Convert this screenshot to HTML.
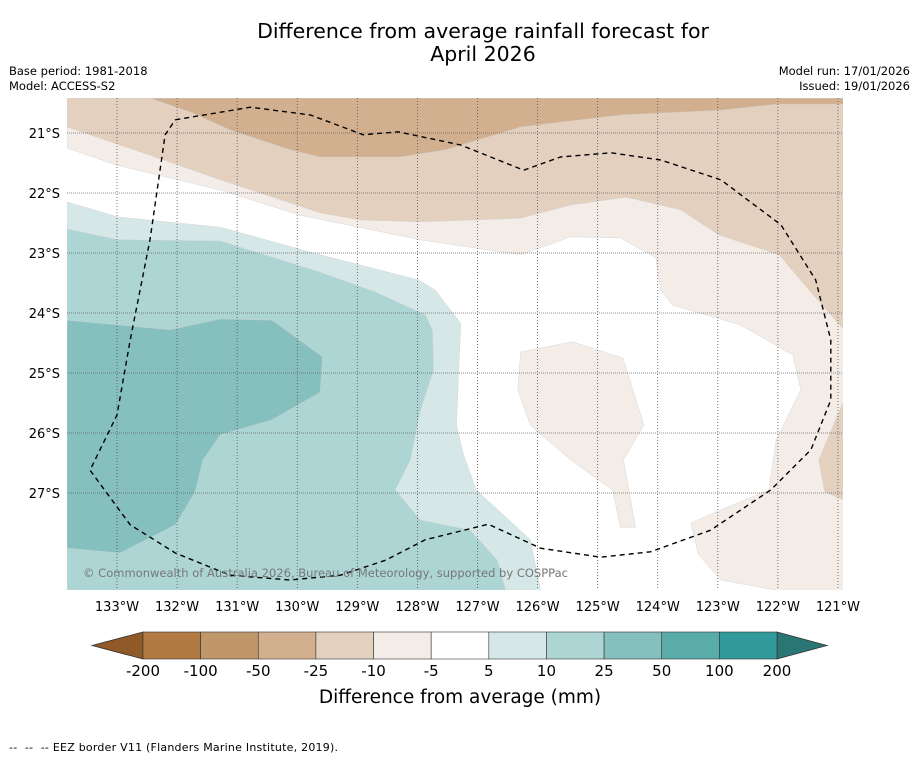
<!DOCTYPE html>
<html><head><meta charset="utf-8"><style>
body{margin:0;background:#fff;font-family:"DejaVu Sans","Liberation Sans",sans-serif;}
svg text{font-family:"DejaVu Sans","Liberation Sans",sans-serif;}
</style></head><body>
<svg id="chart" width="919" height="758" viewBox="0 0 919 758" xmlns="http://www.w3.org/2000/svg">
<rect width="919" height="758" fill="#fff"/>
<text x="483" y="38" font-size="20.5" text-anchor="middle">Difference from average rainfall forecast for</text>
<text x="483" y="61" font-size="20.5" text-anchor="middle">April 2026</text>
<text x="9" y="75" font-size="11.5">Base period: 1981-2018</text>
<text x="9" y="90" font-size="11.5">Model: ACCESS-S2</text>
<text x="910" y="75" font-size="11.5" text-anchor="end">Model run: 17/01/2026</text>
<text x="910" y="90" font-size="11.5" text-anchor="end">Issued: 19/01/2026</text>
<defs><clipPath id="plotclip"><rect x="67" y="98" width="776" height="492"/></clipPath></defs>
<g id="map" clip-path="url(#plotclip)"></g>
<g id="grid"></g>
<g id="eez" clip-path="url(#plotclip)"></g>
<g id="axes"></g>
<text x="83" y="577" font-size="11.5" fill="#777" textLength="485">© Commonwealth of Australia 2026, Bureau of Meteorology, supported by COSPPac</text>
<g id="colorbar"></g>
<text x="460" y="703" font-size="18.5" text-anchor="middle">Difference from average (mm)</text>
<text x="9" y="751" font-size="11" textLength="329" xml:space="preserve">--  --  -- EEZ border V11 (Flanders Marine Institute, 2019).</text>
</svg>
<script>
const lonTicks=[-133,-132,-131,-130,-129,-128,-127,-126,-125,-124,-123,-122,-121];
const latTicks=[-21,-22,-23,-24,-25,-26,-27];
const cbLevels=[-200,-100,-50,-25,-10,-5,5,10,25,50,100,200];
const cbColors=["#b07a42","#c0966b","#d2b08f","#e3d0bf","#f4ece7","#ffffff","#d5e8e7","#acd5d4","#85bfbe","#5aacab","#32999a"];
const cbUnder="#8f5a28", cbOver="#2a7675";
const polyLight=[[-133.83,-20.42],[-120.9,-20.42],[-120.9,-28.62],[-122.03,-28.62],[-122.95,-28.45],[-123.32,-28.03],[-123.45,-27.5],[-122.95,-27.28],[-122.15,-26.95],[-122.03,-26.12],[-121.62,-25.28],[-121.75,-24.7],[-122.62,-24.2],[-123.75,-23.87],[-123.95,-23.62],[-124.03,-23.08],[-124.62,-22.75],[-125.45,-22.73],[-126.28,-23.03],[-127.95,-22.78],[-129.95,-22.37],[-131.28,-21.95],[-133.03,-21.53],[-133.83,-21.25]];
const polyLightPatch=[[-126.28,-24.65],[-125.42,-24.48],[-124.58,-24.75],[-124.23,-25.87],[-124.57,-26.45],[-124.37,-27.57],[-124.62,-27.57],[-124.75,-26.95],[-125.45,-26.45],[-126.12,-25.87],[-126.33,-25.28]];
const polyTan=[[-133.83,-20.42],[-120.9,-20.42],[-120.9,-24.28],[-121.48,-23.62],[-121.98,-23.03],[-122.98,-22.7],[-123.62,-22.28],[-124.53,-22.07],[-125.45,-22.2],[-126.28,-22.42],[-127.95,-22.48],[-128.95,-22.45],[-129.62,-22.33],[-131.28,-21.78],[-132.45,-21.37],[-133.83,-20.9]];
const polyTanPatch=[[-120.9,-25.45],[-121.32,-26.45],[-121.22,-26.98],[-120.9,-27.12]];
const polyDarkTan=[[-132.45,-20.42],[-120.9,-20.42],[-120.9,-20.52],[-122.03,-20.52],[-122.95,-20.62],[-124.62,-20.7],[-126.28,-20.9],[-127.53,-21.28],[-128.28,-21.4],[-129.62,-21.4],[-130.12,-21.28],[-131.12,-20.95],[-131.78,-20.65]];
const polyTeal1=[[-133.83,-22.15],[-132.98,-22.4],[-131.28,-22.57],[-129.62,-23.03],[-127.98,-23.45],[-127.7,-23.62],[-127.28,-24.17],[-127.35,-25.87],[-127.23,-26.37],[-127.02,-26.95],[-126.12,-27.78],[-125.95,-28.62],[-133.83,-28.62]];
const polyTeal2=[[-133.83,-22.6],[-132.98,-22.78],[-131.28,-22.8],[-129.62,-23.32],[-128.7,-23.65],[-127.87,-24.03],[-127.75,-24.28],[-127.73,-24.95],[-127.95,-25.62],[-128.12,-26.45],[-128.37,-26.95],[-127.95,-27.45],[-127.12,-27.62],[-126.67,-28.12],[-126.53,-28.62],[-133.83,-28.62]];
const polyTeal3=[[-133.83,-24.12],[-132.12,-24.28],[-131.28,-24.1],[-130.42,-24.12],[-129.58,-24.73],[-129.62,-25.32],[-130.42,-25.78],[-131.28,-26.03],[-131.57,-26.45],[-131.7,-26.98],[-132.03,-27.53],[-132.95,-28],[-133.83,-27.92]];
const eezLine=[[-132.03,-20.78],[-130.78,-20.57],[-129.78,-20.7],[-128.9,-21.03],[-128.32,-20.98],[-127.28,-21.2],[-126.23,-21.62],[-125.62,-21.4],[-124.78,-21.33],[-123.95,-21.45],[-122.95,-21.78],[-121.95,-22.53],[-121.37,-23.45],[-121.12,-24.45],[-121.12,-25.45],[-121.45,-26.28],[-122.12,-26.95],[-123.12,-27.62],[-124.12,-27.98],[-124.95,-28.07],[-125.95,-27.92],[-126.82,-27.52],[-127.87,-27.78],[-128.53,-28.12],[-129.28,-28.37],[-130.12,-28.45],[-131.12,-28.37],[-132.03,-28],[-132.78,-27.53],[-133.45,-26.62],[-133,-25.7],[-132.78,-24.45],[-132.45,-22.78],[-132.2,-21.03],[-132.03,-20.78]];

const NS="http://www.w3.org/2000/svg";
function xS(lon){return 117+(lon+133)*60.08;}
function yS(lat){return 133+(-21-lat)*60;}
function mk(tag,attrs,parent){const e=document.createElementNS(NS,tag);for(const k in attrs)e.setAttribute(k,attrs[k]);parent.appendChild(e);return e;}
function pts(arr){return arr.map(p=>xS(p[0]).toFixed(1)+","+yS(p[1]).toFixed(1)).join(" ");}
const map=document.getElementById("map");
const layers=[[polyLight,"#f4ece7","contour-minus10-minus5"],[polyLightPatch,"#f4ece7","contour-patch-minus10-minus5"],[polyTan,"#e3d0bf","contour-minus25-minus10"],[polyTanPatch,"#e3d0bf","contour-patch-minus25-minus10"],[polyDarkTan,"#d2b08f","contour-minus50-minus25"],[polyTeal1,"#d5e8e7","contour-5-10"],[polyTeal2,"#acd5d4","contour-10-25"],[polyTeal3,"#85bfbe","contour-25-50"]];
layers.forEach(l=>{
  const e=mk("polygon",{points:pts(l[0]),fill:l[1],stroke:"#cfcfcf","stroke-width":"0.4"},map);
  
  
});
const grid=document.getElementById("grid");
lonTicks.forEach(v=>{
  const e=mk("line",{x1:xS(v),x2:xS(v),y1:98,y2:590,stroke:"#555","stroke-width":"0.8","stroke-dasharray":"1,2"},grid);
  
  
});
latTicks.forEach(v=>{
  const e=mk("line",{x1:67,x2:843,y1:yS(v),y2:yS(v),stroke:"#666","stroke-width":"0.7","stroke-dasharray":"1,1"},grid);
  
  
});
const eez=document.getElementById("eez");
const ep=mk("polyline",{points:pts(eezLine),fill:"none",stroke:"#000","stroke-width":"1.4","stroke-dasharray":"5,4","stroke-linejoin":"round"},eez);


const axes=document.getElementById("axes");
lonTicks.forEach(v=>{
  const t=mk("text",{x:xS(v),y:611,"font-size":"13","text-anchor":"middle"},axes);
  t.textContent=Math.abs(v)+"°W";
  
  
});
latTicks.forEach(v=>{
  const t=mk("text",{x:60,y:yS(v)+5,"font-size":"13","text-anchor":"end"},axes);
  t.textContent=Math.abs(v)+"°S";
  
  
});
const cb=document.getElementById("colorbar");
const cbX0=143,cbX1=777,cbY0=632,cbY1=659;
const segW=(cbX1-cbX0)/cbColors.length;
const under=mk("polygon",{points:`${cbX0},${cbY0} ${cbX0},${cbY1} 92,${(cbY0+cbY1)/2}`,fill:cbUnder,stroke:"#333","stroke-width":"0.8"},cb);


const over=mk("polygon",{points:`${cbX1},${cbY0} ${cbX1},${cbY1} 827,${(cbY0+cbY1)/2}`,fill:cbOver,stroke:"#333","stroke-width":"0.8"},cb);


cbColors.forEach((c,i)=>{
  const r=mk("rect",{x:cbX0+i*segW,y:cbY0,width:segW,height:cbY1-cbY0,fill:c,stroke:"#333","stroke-width":"0.6"},cb);
  
  
});
cbLevels.forEach((v,i)=>{
  const t=mk("text",{x:cbX0+i*segW,y:676,"font-size":"15","text-anchor":"middle"},cb);
  t.textContent=v;
  
  
});
</script>
</body></html>
